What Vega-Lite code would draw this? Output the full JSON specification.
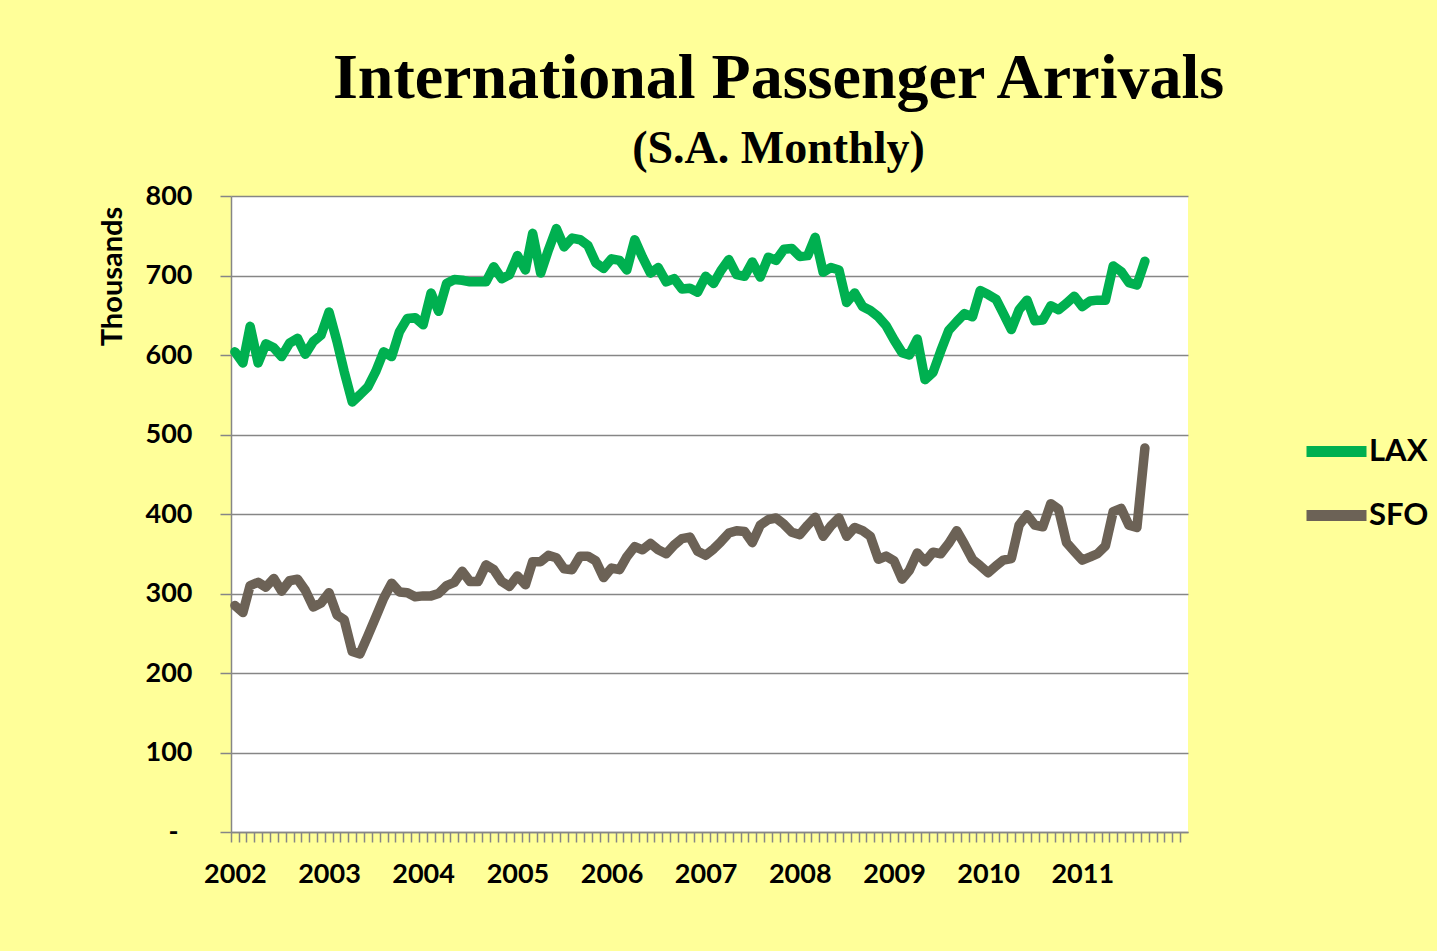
{
  "$schema": "https://vega.github.io/schema/vega-lite/v6.json",
  "autosize": "none",
  "width": 957,
  "height": 636,
  "padding": {"left": 231, "top": 196, "right": 249, "bottom": 119},
  "background": "#FFFF99",
  "title": {
    "text": "International Passenger Arrivals",
    "subtitle": "(S.A. Monthly)",
    "font": "Liberation Serif",
    "fontSize": 64,
    "fontWeight": "bold",
    "color": "black",
    "subtitleFont": "Liberation Serif",
    "subtitleFontSize": 46,
    "subtitleFontWeight": "bold",
    "subtitleColor": "black",
    "subtitlePadding": 16,
    "anchor": "middle",
    "frame": "group",
    "dx": 69,
    "offset": 10
  },
  "data": {
    "values": [
      {"date": "2002-01-01", "LAX": 604, "SFO": 285},
      {"date": "2002-02-01", "LAX": 590, "SFO": 276},
      {"date": "2002-03-01", "LAX": 636, "SFO": 310},
      {"date": "2002-04-01", "LAX": 590, "SFO": 314},
      {"date": "2002-05-01", "LAX": 614, "SFO": 308},
      {"date": "2002-06-01", "LAX": 609, "SFO": 319},
      {"date": "2002-07-01", "LAX": 598, "SFO": 303},
      {"date": "2002-08-01", "LAX": 615, "SFO": 316},
      {"date": "2002-09-01", "LAX": 621, "SFO": 318},
      {"date": "2002-10-01", "LAX": 601, "SFO": 304},
      {"date": "2002-11-01", "LAX": 617, "SFO": 283},
      {"date": "2002-12-01", "LAX": 625, "SFO": 288},
      {"date": "2003-01-01", "LAX": 654, "SFO": 301},
      {"date": "2003-02-01", "LAX": 617, "SFO": 273},
      {"date": "2003-03-01", "LAX": 579, "SFO": 267},
      {"date": "2003-04-01", "LAX": 541, "SFO": 227},
      {"date": "2003-05-01", "LAX": 550, "SFO": 224},
      {"date": "2003-06-01", "LAX": 560, "SFO": 247},
      {"date": "2003-07-01", "LAX": 579, "SFO": 270},
      {"date": "2003-08-01", "LAX": 604, "SFO": 294},
      {"date": "2003-09-01", "LAX": 598, "SFO": 313},
      {"date": "2003-10-01", "LAX": 629, "SFO": 302},
      {"date": "2003-11-01", "LAX": 646, "SFO": 301},
      {"date": "2003-12-01", "LAX": 647, "SFO": 296},
      {"date": "2004-01-01", "LAX": 638, "SFO": 297},
      {"date": "2004-02-01", "LAX": 678, "SFO": 297},
      {"date": "2004-03-01", "LAX": 655, "SFO": 300},
      {"date": "2004-04-01", "LAX": 690, "SFO": 310},
      {"date": "2004-05-01", "LAX": 695, "SFO": 314},
      {"date": "2004-06-01", "LAX": 694, "SFO": 328},
      {"date": "2004-07-01", "LAX": 692, "SFO": 315},
      {"date": "2004-08-01", "LAX": 692, "SFO": 315},
      {"date": "2004-09-01", "LAX": 692, "SFO": 336},
      {"date": "2004-10-01", "LAX": 711, "SFO": 330},
      {"date": "2004-11-01", "LAX": 696, "SFO": 315},
      {"date": "2004-12-01", "LAX": 701, "SFO": 309},
      {"date": "2005-01-01", "LAX": 725, "SFO": 322},
      {"date": "2005-02-01", "LAX": 707, "SFO": 311},
      {"date": "2005-03-01", "LAX": 753, "SFO": 340},
      {"date": "2005-04-01", "LAX": 703, "SFO": 340},
      {"date": "2005-05-01", "LAX": 732, "SFO": 348},
      {"date": "2005-06-01", "LAX": 759, "SFO": 345},
      {"date": "2005-07-01", "LAX": 736, "SFO": 331},
      {"date": "2005-08-01", "LAX": 747, "SFO": 330},
      {"date": "2005-09-01", "LAX": 745, "SFO": 347},
      {"date": "2005-10-01", "LAX": 738, "SFO": 347},
      {"date": "2005-11-01", "LAX": 716, "SFO": 341},
      {"date": "2005-12-01", "LAX": 709, "SFO": 320},
      {"date": "2006-01-01", "LAX": 721, "SFO": 332},
      {"date": "2006-02-01", "LAX": 719, "SFO": 330},
      {"date": "2006-03-01", "LAX": 707, "SFO": 346},
      {"date": "2006-04-01", "LAX": 745, "SFO": 359},
      {"date": "2006-05-01", "LAX": 723, "SFO": 355},
      {"date": "2006-06-01", "LAX": 703, "SFO": 363},
      {"date": "2006-07-01", "LAX": 710, "SFO": 355},
      {"date": "2006-08-01", "LAX": 692, "SFO": 350},
      {"date": "2006-09-01", "LAX": 696, "SFO": 361},
      {"date": "2006-10-01", "LAX": 683, "SFO": 369},
      {"date": "2006-11-01", "LAX": 684, "SFO": 371},
      {"date": "2006-12-01", "LAX": 679, "SFO": 353},
      {"date": "2007-01-01", "LAX": 699, "SFO": 348},
      {"date": "2007-02-01", "LAX": 690, "SFO": 356},
      {"date": "2007-03-01", "LAX": 706, "SFO": 365},
      {"date": "2007-04-01", "LAX": 720, "SFO": 376},
      {"date": "2007-05-01", "LAX": 701, "SFO": 379},
      {"date": "2007-06-01", "LAX": 699, "SFO": 378},
      {"date": "2007-07-01", "LAX": 717, "SFO": 364},
      {"date": "2007-08-01", "LAX": 698, "SFO": 386},
      {"date": "2007-09-01", "LAX": 723, "SFO": 393},
      {"date": "2007-10-01", "LAX": 719, "SFO": 395},
      {"date": "2007-11-01", "LAX": 733, "SFO": 387},
      {"date": "2007-12-01", "LAX": 734, "SFO": 377},
      {"date": "2008-01-01", "LAX": 724, "SFO": 374},
      {"date": "2008-02-01", "LAX": 725, "SFO": 386},
      {"date": "2008-03-01", "LAX": 748, "SFO": 396},
      {"date": "2008-04-01", "LAX": 704, "SFO": 372},
      {"date": "2008-05-01", "LAX": 710, "SFO": 385},
      {"date": "2008-06-01", "LAX": 707, "SFO": 395},
      {"date": "2008-07-01", "LAX": 666, "SFO": 372},
      {"date": "2008-08-01", "LAX": 678, "SFO": 383},
      {"date": "2008-09-01", "LAX": 661, "SFO": 379},
      {"date": "2008-10-01", "LAX": 656, "SFO": 372},
      {"date": "2008-11-01", "LAX": 648, "SFO": 343},
      {"date": "2008-12-01", "LAX": 637, "SFO": 347},
      {"date": "2009-01-01", "LAX": 619, "SFO": 341},
      {"date": "2009-02-01", "LAX": 603, "SFO": 318},
      {"date": "2009-03-01", "LAX": 600, "SFO": 329},
      {"date": "2009-04-01", "LAX": 620, "SFO": 351},
      {"date": "2009-05-01", "LAX": 569, "SFO": 340},
      {"date": "2009-06-01", "LAX": 578, "SFO": 352},
      {"date": "2009-07-01", "LAX": 605, "SFO": 350},
      {"date": "2009-08-01", "LAX": 631, "SFO": 363},
      {"date": "2009-09-01", "LAX": 642, "SFO": 379},
      {"date": "2009-10-01", "LAX": 652, "SFO": 362},
      {"date": "2009-11-01", "LAX": 648, "SFO": 343},
      {"date": "2009-12-01", "LAX": 681, "SFO": 335},
      {"date": "2010-01-01", "LAX": 676, "SFO": 326},
      {"date": "2010-02-01", "LAX": 670, "SFO": 335},
      {"date": "2010-03-01", "LAX": 652, "SFO": 342},
      {"date": "2010-04-01", "LAX": 632, "SFO": 344},
      {"date": "2010-05-01", "LAX": 657, "SFO": 386},
      {"date": "2010-06-01", "LAX": 669, "SFO": 399},
      {"date": "2010-07-01", "LAX": 643, "SFO": 386},
      {"date": "2010-08-01", "LAX": 644, "SFO": 384},
      {"date": "2010-09-01", "LAX": 662, "SFO": 413},
      {"date": "2010-10-01", "LAX": 657, "SFO": 406},
      {"date": "2010-11-01", "LAX": 665, "SFO": 364},
      {"date": "2010-12-01", "LAX": 674, "SFO": 353},
      {"date": "2011-01-01", "LAX": 661, "SFO": 342},
      {"date": "2011-02-01", "LAX": 668, "SFO": 346},
      {"date": "2011-03-01", "LAX": 669, "SFO": 350},
      {"date": "2011-04-01", "LAX": 669, "SFO": 360},
      {"date": "2011-05-01", "LAX": 712, "SFO": 403},
      {"date": "2011-06-01", "LAX": 705, "SFO": 407},
      {"date": "2011-07-01", "LAX": 691, "SFO": 386},
      {"date": "2011-08-01", "LAX": 688, "SFO": 383},
      {"date": "2011-09-01", "LAX": 718, "SFO": 483}
    ]
  },
  "transform": [{"fold": ["LAX", "SFO"], "as": ["airport", "value"]}],
  "mark": {"type": "line", "strokeWidth": 9.5, "strokeJoin": "round", "strokeCap": "round"},
  "encoding": {
    "x": {
      "field": "date",
      "type": "temporal",
      "scale": {
        "type": "utc",
        "domain": [
          {"year": 2001, "month": 12, "date": 16, "hours": 19, "utc": true},
          {"year": 2012, "month": 2, "date": 15, "hours": 5, "utc": true}
        ]
      },
      "axis": {
        "title": null,
        "tickCount": {"interval": "month", "step": 1},
        "labelExpr": "utcFormat(datum.value, '%m') == '01' && utcyear(datum.value) < 2012 ? utcFormat(datum.value, '%Y') : ''",
        "labelOverlap": false,
        "labelFlush": false,
        "tickOffset": -3.92,
        "labelOffset": 3.92,
        "tickSize": 10,
        "tickColor": "#868686",
        "tickWidth": 1.5,
        "domainColor": "#868686",
        "domainWidth": 1.5,
        "grid": false,
        "labelFont": "Lato",
        "labelFontSize": 27,
        "labelFontWeight": "bold",
        "labelColor": "black",
        "labelPadding": 19
      }
    },
    "y": {
      "field": "value",
      "type": "quantitative",
      "scale": {"domain": [0, 800]},
      "axis": {
        "title": "Thousands",
        "values": [0, 100, 200, 300, 400, 500, 600, 700, 800],
        "labelExpr": "datum.value == 0 ? '-' : datum.label",
        "grid": true,
        "gridColor": "#868686",
        "gridWidth": 1.5,
        "tickColor": "#868686",
        "tickWidth": 1.5,
        "tickSize": 11,
        "domainColor": "#868686",
        "domainWidth": 1.5,
        "labelFont": "Lato",
        "labelFontSize": 27,
        "labelFontWeight": "bold",
        "labelColor": "black",
        "labelPadding": {"condition": {"test": "datum.value == 0", "value": 42}, "value": 28},
        "titleFont": "Lato",
        "titleFontSize": 29,
        "titleFontWeight": "bold",
        "titleColor": "black",
        "titleAngle": -90,
        "titleX": -119,
        "titleY": 80,
        "titleAlign": "center",
        "titleBaseline": "middle"
      }
    },
    "color": {
      "field": "airport",
      "type": "nominal",
      "scale": {"domain": ["LAX", "SFO"], "range": ["#00B050", "#6C6256"]},
      "legend": {
        "title": null,
        "orient": "none",
        "legendX": 1070,
        "legendY": 220,
        "symbolType": "stroke",
        "symbolSize": 3600,
        "symbolStrokeWidth": 11,
        "labelFont": "Lato",
        "labelFontSize": 31,
        "labelFontWeight": "bold",
        "labelColor": "black",
        "labelOffset": -3,
        "rowPadding": 6,
        "padding": 0
      }
    }
  },
  "config": {"view": {"fill": "white", "stroke": null}}
}
